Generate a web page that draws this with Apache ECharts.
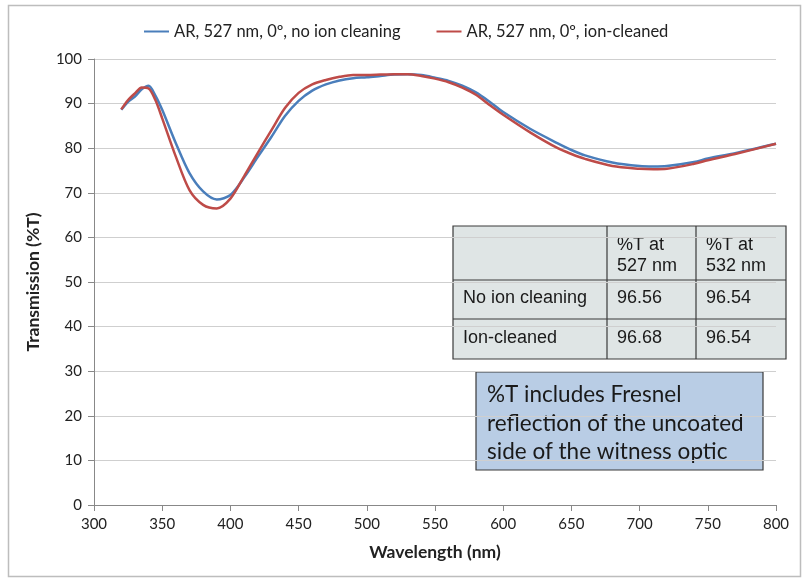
<!DOCTYPE html>
<html><head><meta charset="utf-8">
<script src="https://cdn.jsdelivr.net/npm/echarts@6/dist/echarts.min.js"></script>
<style>html,body{margin:0;padding:0;background:#fff}#c{width:804px;height:580px}</style>
</head><body><div id="c"></div>
<script>
// Data
const wavelengths = [320,325,330,335,340,345,350,360,370,380,390,400,410,420,430,440,450,460,470,480,490,500,510,520,530,540,550,560,570,580,590,600,620,640,650,660,680,700,710,720,740,750,770,800];
const noIonCleaning = [88.6,90.4,91.6,93.2,94.0,91.8,88.6,81.1,74.4,70.3,68.5,69.5,73.4,78.0,82.5,87.2,90.6,92.9,94.3,95.2,95.7,95.9,96.2,96.5,96.6,96.4,95.8,95.1,94.0,92.5,90.4,88.1,84.3,81.1,79.6,78.4,76.8,76.0,75.9,76.0,76.9,77.7,78.9,81.0];
const ionCleaned = [88.7,90.8,92.3,93.6,93.4,90.8,86.7,78.1,70.6,67.3,66.5,68.7,73.7,78.9,84.0,89.0,92.4,94.3,95.3,96.0,96.4,96.4,96.5,96.6,96.6,96.2,95.6,94.8,93.6,92.0,89.7,87.5,83.5,80.0,78.7,77.6,76.0,75.4,75.3,75.4,76.5,77.3,78.7,81.0];
const seriesNames = ['AR, 527 nm, 0º, no ion cleaning', 'AR, 527 nm, 0º, ion-cleaned'];
const xTicks = [300,350,400,450,500,550,600,650,700,750,800];
const yTicks = [0,10,20,30,40,50,60,70,80,90,100];
const tableHeader = [[], ['%T at', '527 nm'], ['%T at', '532 nm']];
const tableRowLabels = ['No ion cleaning', 'Ion-cleaned'];
const tableAt527 = ['96.56', '96.68'];
const tableAt532 = ['96.54', '96.54'];
const noteLines = ['%T includes Fresnel', 'reflection of the uncoated', 'side of the witness optic'];

const BLUE = '#4a7ebb', RED = '#be4b48';
const FONT = 'Lato, "Open Sans", sans-serif';
const TFONT = '"Liberation Sans", Arial, sans-serif';

function pairs(xs, ys){ return xs.map((x,i)=>[x, ys[i]]); }

// table geometry
const tx = [453, 607, 696, 786];
const ty = [226, 280, 319, 359];
const tableEls = [];
tableEls.push({type:'rect', shape:{x:tx[0], y:ty[0], width:tx[3]-tx[0], height:ty[3]-ty[0]}, style:{fill:'#dfe5e5', stroke:'#3a3a3a', lineWidth:1.2}});
for (let i=1;i<3;i++) tableEls.push({type:'line', shape:{x1:tx[i], y1:ty[0], x2:tx[i], y2:ty[3]}, style:{stroke:'#3a3a3a', lineWidth:1.2}});
for (let j=1;j<3;j++) tableEls.push({type:'line', shape:{x1:tx[0], y1:ty[j], x2:tx[3], y2:ty[j]}, style:{stroke:'#3a3a3a', lineWidth:1.2}});
function cellText(txt, x, y){
  return {type:'text', x:x, y:y, style:{text:txt, font:'18px '+TFONT, fill:'#1a1a1a', verticalAlign:'middle', align:'left'}};
}
tableHeader.forEach((lines, c) => {
  lines.forEach((ln, k) => tableEls.push(cellText(ln, tx[c]+10, 245 + k*21)));
});
tableRowLabels.forEach((lab, r) => {
  const cy = (ty[r+1]+ty[r+2])/2 - 1;
  tableEls.push(cellText(lab, tx[0]+10, cy));
  tableEls.push(cellText(tableAt527[r], tx[1]+10, cy));
  tableEls.push(cellText(tableAt532[r], tx[2]+10, cy));
});
const noteEls = [
  {type:'rect', shape:{x:476, y:372, width:287, height:98}, style:{fill:'#b9cde5', stroke:'#3a3a3a', lineWidth:1.2}}
];
noteLines.forEach((ln, k) => noteEls.push({type:'text', x:487, y:395 + k*28.3,
  style:{text:ln, font:'22.5px '+FONT, fill:'#1a1a1a', verticalAlign:'middle', align:'left'}}));

const chart = echarts.init(document.getElementById('c'), null, {renderer:'canvas'});
chart.setOption({
  animation:false,
  backgroundColor:'#fff',
  textStyle:{fontFamily:FONT},
  legend:{
    top:18, left:139, itemGap:36, itemWidth:25, itemHeight:2, icon:'rect',
    textStyle:{fontSize:16.5, color:'#222', fontFamily:FONT},
    data:seriesNames
  },
  grid:{left:94, right:28, top:59, bottom:75, containLabel:false},
  xAxis:{
    type:'value', min:300, max:800, interval:50,
    name:'Wavelength (nm)', nameLocation:'middle', nameGap:38,
    nameTextStyle:{fontSize:17.5, fontWeight:'bold', color:'#222', fontFamily:FONT},
    axisLine:{show:true, lineStyle:{color:'#888', width:1}},
    axisTick:{show:true, length:6, lineStyle:{color:'#888'}},
    axisLabel:{fontSize:15, color:'#222', margin:12, fontFamily:FONT,
      formatter: v => xTicks.includes(v) ? String(v) : ''},
    splitLine:{show:false}
  },
  yAxis:{
    type:'value', min:0, max:100, interval:10,
    name:'Transmission (%T)', nameLocation:'middle', nameGap:52, nameRotate:90,
    nameTextStyle:{fontSize:17.5, fontWeight:'bold', color:'#222', fontFamily:FONT},
    axisLine:{show:true, lineStyle:{color:'#888', width:1}},
    axisTick:{show:true, length:6, lineStyle:{color:'#888'}},
    axisLabel:{fontSize:15, color:'#222', margin:12, fontFamily:FONT,
      formatter: v => yTicks.includes(v) ? String(v) : ''},
    splitLine:{show:true, lineStyle:{color:'#cfcfcf', width:1}}
  },
  series:[
    {name:seriesNames[0], type:'line', smooth:0.3, showSymbol:false, symbol:'none',
      data:pairs(wavelengths, noIonCleaning), lineStyle:{color:BLUE, width:2.5}, itemStyle:{color:BLUE}, z:3},
    {name:seriesNames[1], type:'line', smooth:0.3, showSymbol:false, symbol:'none',
      data:pairs(wavelengths, ionCleaned), lineStyle:{color:RED, width:2.5}, itemStyle:{color:RED}, z:4}
  ],
  graphic:[
    {type:'rect', shape:{x:8.5, y:5.5, width:792, height:571}, style:{fill:'none', stroke:'#bdbdbd', lineWidth:1.5}, silent:true, z:-1}
  ].concat(tableEls, noteEls)
});
</script>
</body></html>
